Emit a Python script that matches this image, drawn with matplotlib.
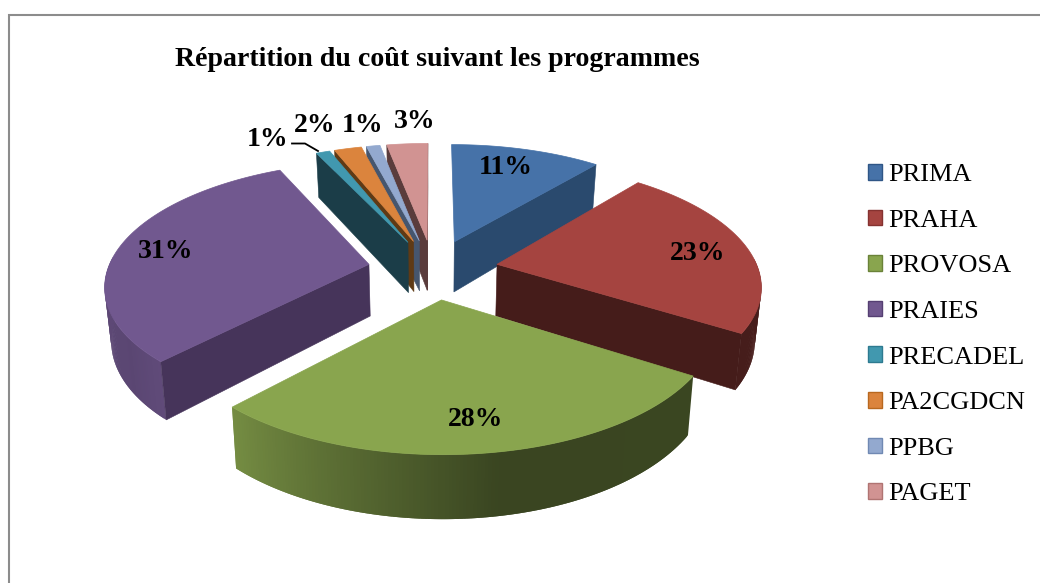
import numpy as np
import matplotlib
matplotlib.use("Agg")
import matplotlib.pyplot as plt
from matplotlib.patches import Polygon, Patch, Rectangle

title = "Répartition du coût suivant les programmes"
programmes = ["PRIMA", "PRAHA", "PROVOSA", "PRAIES", "PRECADEL", "PA2CGDCN", "PPBG", "PAGET"]
percent = [11, 23, 28, 31, 1, 2, 1, 3]
top_colors = ["#4672a8", "#a54440", "#89a54e", "#71588f", "#4198af", "#db843d", "#93a9cf", "#d19392"]
side_colors = ["#2a4a6e", "#451c1a", "#3a451e", "#46345a", "#1b3d48", "#5f3a15", "#46566e", "#5a3c3c"]
edge_colors = ["#2f5686", "#853230", "#6a8238", "#553f72", "#2d7a90", "#b8681f", "#7089b3", "#b07472"]
label_px = [(506, 168), (698, 253), (476, 420), (166, 252), (268, 139), (315, 126), (363, 125), (415, 121)]
draw_order = [7, 6, 5, 4, 0, 3, 1, 2]

# Projection of the pie plane on the 1040x583 canvas
CX, CY, A, B, K, DEPTH, SHRINK, EXPLODE = 433, 269, 261, 120, 0.155, 52, 0.02, 0.25


def project(X, Y, Z=0.0):
    X, Y = np.asarray(X, float), np.asarray(Y, float)
    den = 1 + K * Y
    return CX + A * X / den * (1 - SHRINK * Z), CY + (-B * Y + DEPTH * Z) / den


def shade(color, t):
    rgb = np.array(matplotlib.colors.to_rgb(color))
    return tuple(rgb * t)


fig = plt.figure(figsize=(10.4, 5.83), dpi=100)
ax = fig.add_axes([0, 0, 1, 1])
ax.set_xlim(0, 1040)
ax.set_ylim(583, 0)
ax.axis("off")

plt.rcParams["font.family"] = ["Liberation Serif", "DejaVu Serif"]

ax.add_patch(Rectangle((8.5, 15), 1100, 700, fc="white", ec="#8c8c8c", lw=1.5, zorder=0))

edges = np.cumsum([0] + percent) / sum(percent) * 2 * np.pi
z = 1
for i in draw_order:
    t0, t1 = edges[i], edges[i + 1]
    mid = (t0 + t1) / 2
    ox, oy = EXPLODE * np.sin(mid), EXPLODE * np.cos(mid)
    th = np.linspace(t0, t1, max(6, int((t1 - t0) * 90)))
    X = ox + np.sin(th)
    Y = oy + np.cos(th)
    top = top_colors[i]
    side = side_colors[i]

    # outer wall, shaded strip by strip; each strip overlaps the next to avoid seams
    for j in range(len(th) - 1):
        if np.cos(th[j]) > 0.05 and np.cos(th[j + 1]) > 0.05:
            continue
        deg = np.degrees((th[j] + th[j + 1]) / 2)
        s = np.interp(deg, [0, 150, 170, 223, 235, 300, 360], [0.45, 0.42, 0.42, 0.85, 0.8, 0.85, 0.85])
        c = shade(top, s)
        k = min(j + 3, len(th))
        u = project(X[j:k], Y[j:k], 0)
        v = project(X[j:k][::-1], Y[j:k][::-1], 1)
        pts = np.column_stack([np.r_[u[0], v[0]], np.r_[u[1], v[1]]])
        ax.add_patch(Polygon(pts, fc=c, ec="none", zorder=z))
        z += 0.001
    z += 1

    # radial walls that face the viewer
    for t, facing in ((t0, np.sin(t0) < 0), (t1, np.sin(t1) > -1e-9)):
        if not facing:
            continue
        ex, ey = ox + np.sin(t), oy + np.cos(t)
        a = project([ox, ex], [oy, ey], 0)
        b = project([ex, ox], [ey, oy], 1)
        pts = np.column_stack([np.r_[a[0], b[0]], np.r_[a[1], b[1]]])
        ax.add_patch(Polygon(pts, fc=side, ec=side, lw=0.4, zorder=z))
    z += 1

    # top face
    px, py = project(np.r_[ox, X], np.r_[oy, Y], 0)
    ax.add_patch(Polygon(np.column_stack([px, py]), fc=top, ec=top, lw=0.5, zorder=z))
    z += 1

for p, (lx, ly) in zip(percent, label_px):
    ax.text(lx, ly, f"{p}%", ha="center", va="center", fontsize=20, fontweight="bold",
            color="black", zorder=z + 1)

# leader line of the first 1% label
ax.plot([292, 305, 318], [143.5, 143.5, 151], color="black", lw=1.3, zorder=z + 1)

ax.text(175, 59, title, ha="left", va="center", fontsize=20.1, fontweight="bold", color="black", zorder=z + 1)

handles = [Patch(facecolor=c, edgecolor=e, lw=1, label=n) for c, e, n in zip(top_colors, edge_colors, programmes)]
ax.legend(handles=handles, loc="upper left", bbox_to_anchor=(868, 164), bbox_transform=ax.transData,
          frameon=False, fontsize=19, handlelength=0.53, handleheight=0.53, handletextpad=0.22,
          labelspacing=0.89, borderaxespad=0, borderpad=0, labelcolor="black")

fig.savefig("out.png", dpi=100)
